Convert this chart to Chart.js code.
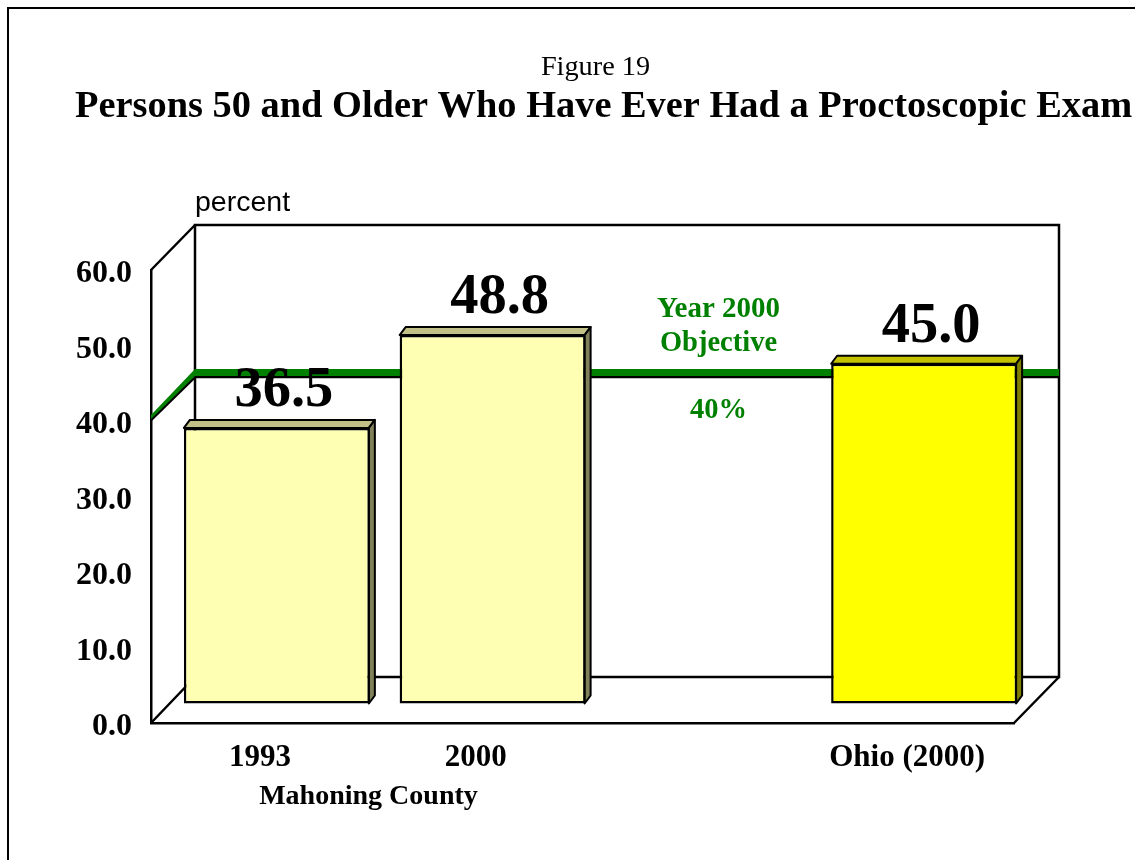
<!DOCTYPE html>
<html>
<head>
<meta charset="utf-8">
<title>Figure 19</title>
<script src="https://cdn.jsdelivr.net/npm/chart.js@4/dist/chart.umd.js"></script>
<style>
  html, body { margin: 0; padding: 0; background: #fff; overflow: hidden; }
  #frame { position: absolute; left: 7px; top: 7px; right: -10px; bottom: -10px; border-left: 2px solid #000; border-top: 2px solid #000; }
  #wrap { position: absolute; left: 0; top: 0; width: 1135px; height: 860px; }
</style>
</head>
<body>
<div id="frame"></div>
<div id="wrap"><canvas id="chart" width="1135" height="860"></canvas></div>
<script>
// Chart data
const categories = ['1993', '2000', '', 'Ohio (2000)'];
const percentValues = [36.5, 48.8, null, 45.0];
const objectiveValue = 40;
const yTicks = { min: 0, max: 60, step: 10 };

const barFills = ['#FFFFB3', '#FFFFB3', '#FFFFB3', '#FFFF00'];
const barTops = ['#C2C288', '#C2C288', '#C2C288', '#C2C200'];
const barSides = ['#80805A', '#80805A', '#80805A', '#808000'];

const SERIF = "'Liberation Serif', 'Times New Roman', serif";
const GREEN = '#008000';

// 3D look: back wall offset and how far the bars stand in from the front edge
const WALL_DX = 44, WALL_DY = 46;
const BAR_DX = 18, BAR_DY = 19.5;
const CAP_DX = 6, CAP_DY = 8;

function poly(ctx, pts, fill) {
  ctx.beginPath();
  pts.forEach((p, i) => i ? ctx.lineTo(p[0], p[1]) : ctx.moveTo(p[0], p[1]));
  ctx.closePath();
  if (fill) { ctx.fillStyle = fill; ctx.fill(); }
  ctx.stroke();
}

function label(ctx, text, x, y, font, color = '#000', align = 'center') {
  ctx.font = font;
  ctx.fillStyle = color;
  ctx.textAlign = align;
  ctx.textBaseline = 'alphabetic';
  ctx.fillText(text, x, y);
}

const depthPlugin = {
  id: 'depth',
  // walls, floor, objective line and bar caps go under the bars
  beforeDatasetsDraw(chart) {
    const { ctx, chartArea: a, scales: { y } } = chart;
    ctx.save();
    ctx.strokeStyle = '#000';
    ctx.lineWidth = 2.5;
    ctx.lineJoin = 'miter';

    const backL = a.left + WALL_DX, backR = a.right + WALL_DX + 1;
    const backT = a.top - WALL_DY + 1, backB = a.bottom - WALL_DY;
    ctx.strokeRect(backL, backT, backR - backL, backB - backT);
    ctx.beginPath();
    ctx.moveTo(a.left, a.top);
    ctx.lineTo(backL, backT);
    ctx.moveTo(a.left, a.bottom);
    ctx.lineTo(backL, backB);
    ctx.moveTo(a.right, a.bottom);
    ctx.lineTo(backR, backB);
    ctx.stroke();

    // objective line runs up the side wall, then along the back wall
    const fy = y.getPixelForValue(objectiveValue);
    const by = fy - WALL_DY;
    ctx.beginPath();
    ctx.moveTo(a.left, fy - 1);
    ctx.lineTo(backL, by + 2);
    ctx.lineTo(backR, by + 2);
    ctx.stroke();
    ctx.save();
    ctx.lineWidth = 0;
    ctx.strokeStyle = 'transparent';
    poly(ctx, [[a.left, fy - 6], [backL, by - 6], [backR, by - 6], [backR, by + 1], [backL, by + 1], [a.left, fy - 2]], GREEN);
    ctx.restore();

    const meta = chart.getDatasetMeta(0);
    ctx.lineWidth = 2;
    ctx.lineJoin = 'round';
    meta.data.forEach((el, i) => {
      if (percentValues[i] === null) return;
      const x0 = el.x - el.width / 2 + BAR_DX, x1 = el.x + el.width / 2 + BAR_DX - 1;
      const top = el.y - BAR_DY, base = el.base - BAR_DY;
      poly(ctx, [[x0, top], [x0 + CAP_DX, top - CAP_DY], [x1 + CAP_DX, top - CAP_DY], [x1, top]], barTops[i]);
      poly(ctx, [[x1, top], [x1 + CAP_DX, top - CAP_DY], [x1 + CAP_DX, base - CAP_DY], [x1, base]], barSides[i]);
    });
    ctx.restore();
  },
  beforeDatasetDraw(chart) {
    chart.ctx.save();
    chart.ctx.translate(BAR_DX, -BAR_DY);
  },
  afterDatasetDraw(chart) {
    chart.ctx.restore();
  },
  afterDatasetsDraw(chart) {
    const { ctx } = chart;
    ctx.save();
    chart.getDatasetMeta(0).data.forEach((el, i) => {
      if (percentValues[i] === null) return;
      label(ctx, percentValues[i].toFixed(1), el.x + BAR_DX + 7, el.y - BAR_DY - 22, 'bold 56.5px ' + SERIF);
    });
    label(ctx, 'Figure 19', 595.5, 75, '28.3px ' + SERIF);
    label(ctx, 'Persons 50 and Older Who Have Ever Had a Proctoscopic Exam', 75, 117, 'bold 38.4px ' + SERIF, '#000', 'left');
    label(ctx, 'percent', 195, 211, "28.5px 'Liberation Sans', Arial, sans-serif", '#000', 'left');
    label(ctx, 'Year 2000', 718.5, 317, 'bold 29px ' + SERIF, GREEN);
    label(ctx, 'Objective', 718.5, 351, 'bold 28.5px ' + SERIF, GREEN);
    label(ctx, '40%', 718.5, 418, 'bold 28.5px ' + SERIF, GREEN);
    label(ctx, 'Mahoning County', 368.5, 804, 'bold 28px ' + SERIF);
    ctx.restore();
  }
};

Chart.defaults.font.family = SERIF;
Chart.defaults.color = '#000';

new Chart(document.getElementById('chart'), {
  type: 'bar',
  data: {
    labels: categories,
    datasets: [{
      data: percentValues,
      backgroundColor: barFills,
      borderColor: '#000',
      borderWidth: 2.5,
      borderSkipped: false,
      categoryPercentage: 1,
      barPercentage: 0.862,
      clip: false
    }]
  },
  options: {
    responsive: false,
    animation: false,
    layout: { padding: { top: 270, right: 121, left: 0, bottom: 0 } },
    plugins: { legend: { display: false }, title: { display: false }, tooltip: { enabled: false } },
    scales: {
      x: {
        grid: { display: false },
        border: { color: '#000', width: 2.5 },
        ticks: { font: { size: 31, weight: 'bold' }, padding: 8, labelOffset: 1, maxRotation: 0, autoSkip: false },
        afterFit: s => { s.height = 137; }
      },
      y: {
        min: yTicks.min,
        max: yTicks.max,
        grid: { display: false },
        border: { color: '#000', width: 2.5 },
        ticks: {
          stepSize: yTicks.step,
          font: { size: 32, weight: 'bold' },
          padding: 11,
          labelOffset: 4,
          callback: v => v.toFixed(1)
        },
        afterFit: s => { s.width = 151; }
      }
    }
  },
  plugins: [depthPlugin]
});
</script>
</body>
</html>
